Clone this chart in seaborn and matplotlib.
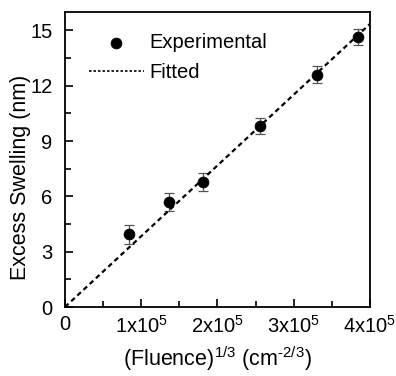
import matplotlib
matplotlib.use("Agg")
import matplotlib.pyplot as plt
import seaborn as sns
from matplotlib.ticker import MultipleLocator, FixedLocator

sns.set_style("ticks")
plt.rcParams['font.family'] = ['Liberation Sans', 'DejaVu Sans']
plt.rcParams['mathtext.fontset'] = 'custom'
plt.rcParams['mathtext.rm'] = 'Liberation Sans'
plt.rcParams['text.color'] = 'black'
plt.rcParams['axes.labelcolor'] = 'black'
plt.rcParams['xtick.color'] = 'black'
plt.rcParams['ytick.color'] = 'black'

# experimental points
fluence = [0.84e5, 1.37e5, 1.81e5, 2.56e5, 3.30e5, 3.84e5]
swelling = [3.94, 5.71, 6.78, 9.81, 12.6, 14.65]
erreur = [0.5, 0.5, 0.5, 0.45, 0.45, 0.45]

# fitted line (end points)
fit_x = [0, 4.0e5]
fit_y = [0, 15.35]

xticks = [0, 1e5, 2e5, 3e5, 4e5]
xlabels = ["0", "1x10$^5$", "2x10$^5$", "3x10$^5$", "4x10$^5$"]

fig, ax = plt.subplots(figsize=(3.96, 3.76), dpi=100)
fig.subplots_adjust(left=0.164, right=0.934, bottom=0.1835, top=0.968)

ax.errorbar(fluence, swelling, yerr=erreur, fmt="none", ecolor="#555555",
            elinewidth=0.9, capsize=3.5, capthick=0.9, zorder=2)
sns.lineplot(ax=ax, x=fit_x, y=fit_y, color="black", linestyle=(0, (2.2, 1.6)),
             linewidth=1.6, label="Fitted", zorder=3)
sns.scatterplot(ax=ax, x=fluence, y=swelling, color="black", s=60,
                edgecolor="black", label="Experimental", zorder=4)

ax.set_xlim(0, 4e5)
ax.set_ylim(0, 16)
ax.xaxis.set_major_locator(FixedLocator(xticks))
ax.set_xticklabels(xlabels)
ax.xaxis.set_minor_locator(MultipleLocator(0.5e5))
ax.yaxis.set_major_locator(MultipleLocator(3))
ax.yaxis.set_minor_locator(MultipleLocator(1.5))
ax.tick_params(which="both", direction="in", labelsize=14.5, width=1.2,
               colors="black")
ax.tick_params(which="major", length=6)
ax.tick_params(which="minor", length=4)
ax.tick_params(axis="x", pad=6)
ax.tick_params(axis="y", pad=9)
for s in ax.spines.values():
    s.set_linewidth(1.3)
    s.set_color("black")

ax.set_xlabel(r"(Fluence)$^{\mathrm{1/3}}$ (cm$^{\text{-2/3}}$)", fontsize=15.5,
              labelpad=5, color="black")
ax.set_ylabel("Excess Swelling (nm)", fontsize=15.5, color="black")
ax.yaxis.set_label_coords(-0.11, 0.44)

handles, labels = ax.get_legend_handles_labels()
order = [labels.index("Experimental"), labels.index("Fitted")]
leg = ax.legend([handles[i] for i in order], [labels[i] for i in order],
                loc="upper left", bbox_to_anchor=(0.02, 0.99), frameon=False,
                fontsize=14.5, handlelength=2.7, handletextpad=0.28,
                labelspacing=0.55, labelcolor="black")
leg.get_lines()[0].set_linewidth(1.2)
leg.get_lines()[0].set_linestyle((0, (1.5, 1.2)))

fig.savefig("out.png", dpi=100)
